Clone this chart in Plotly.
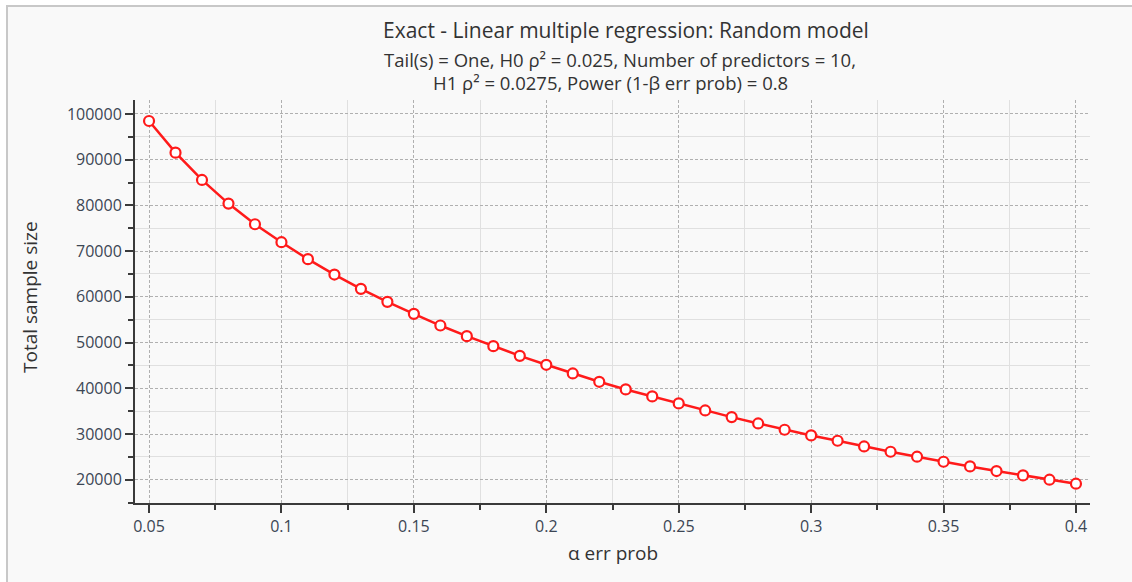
import plotly.graph_objects as go

alpha = [0.05, 0.06, 0.07, 0.08, 0.09, 0.10, 0.11, 0.12, 0.13, 0.14, 0.15, 0.16,
         0.17, 0.18, 0.19, 0.20, 0.21, 0.22, 0.23, 0.24, 0.25, 0.26, 0.27, 0.28,
         0.29, 0.30, 0.31, 0.32, 0.33, 0.34, 0.35, 0.36, 0.37, 0.38, 0.39, 0.40]
sample_size = [98470, 91540, 85570, 80400, 75880, 71950, 68240, 64880, 61750, 58910,
               56280, 53730, 51400, 49220, 47100, 45140, 43240, 41420, 39750, 38220,
               36690, 35150, 33700, 32310, 30930, 29690, 28520, 27280, 26120, 25030,
               23930, 22910, 21900, 20940, 20000, 19130]

x_ticks = [0.05, 0.1, 0.15, 0.2, 0.25, 0.3, 0.35, 0.4]
x_ticktext = ["0.05", "0.1", "0.15", "0.2", "0.25", "0.3", "0.35", "0.4"]
y_ticks = [20000, 30000, 40000, 50000, 60000, 70000, 80000, 90000, 100000]
y_ticktext = ["20000", "30000", "40000", "50000", "60000", "70000", "80000", "90000", "100000"]

title = "Exact - Linear multiple regression: Random model"
subtitle1 = "Tail(s) = One, H0 ρ² = 0.025, Number of predictors = 10,"
subtitle2 = "H1 ρ² = 0.0275, Power (1-β err prob) = 0.8"
x_title = "α err prob"
y_title = "Total sample size"

FONT = "Open Sans"
W, H = 1132, 582
L, R, T, B = 135, 42, 100, 79
pw, ph = W - L - R, H - T - B


def px(x):
    return (x - L) / pw


def py(y):
    return (H - B - y) / ph


fig = go.Figure()
fig.add_trace(go.Scatter(
    x=alpha, y=sample_size, mode="lines+markers",
    line=dict(color="#ff1a1a", width=2.5),
    marker=dict(symbol="circle", size=10, color="white",
                line=dict(color="#ff1a1a", width=2.2)),
    showlegend=False,
))

axis_common = dict(
    showline=True, linecolor="#3a3a3a", linewidth=2,
    ticks="outside", ticklen=8, tickwidth=2, tickcolor="#3a3a3a",
    showgrid=True, gridcolor="#b0b0b0", griddash="3px,2px", gridwidth=1,
    zeroline=False, mirror=False,
    tickfont=dict(family=FONT, size=16, color="#3c4654"),
)
minor_common = dict(ticks="outside", ticklen=5, tickwidth=2, tickcolor="#3a3a3a",
                    showgrid=True, gridcolor="#e0e0e0", gridwidth=1, griddash="solid")

fig.update_xaxes(
    range=[0.0447, 0.4053], tickvals=x_ticks, ticktext=x_ticktext,
    minor=dict(tickvals=[0.075, 0.125, 0.175, 0.225, 0.275, 0.325, 0.375], **minor_common),
    **axis_common,
)
fig.update_yaxes(
    range=[14907, 103060], tickvals=y_ticks, ticktext=y_ticktext,
    minor=dict(tickvals=[15000, 25000, 35000, 45000, 55000, 65000, 75000, 85000, 95000],
               **minor_common),
    **axis_common,
)

annotations = [
    dict(text=title, x=px(626), y=py(30), font=dict(size=21, color="#333333")),
    dict(text=subtitle1, x=px(620), y=py(60), font=dict(size=18.5, color="#333333")),
    dict(text=subtitle2, x=px(610), y=py(83), font=dict(size=18.5, color="#333333")),
    dict(text=x_title, x=px(613), y=py(553), font=dict(size=19, color="#333333")),
    dict(text=y_title, x=px(30), y=py(297), textangle=-90,
         font=dict(size=19, color="#333333")),
]
for a in annotations:
    a.update(xref="paper", yref="paper", showarrow=False,
             xanchor="center", yanchor="middle")
    a["font"]["family"] = FONT

fig.update_layout(
    width=W, height=H,
    margin=dict(l=L, r=R, t=T, b=B, pad=0),
    paper_bgcolor="white",
    plot_bgcolor="#f0f0f0",
    annotations=annotations,
    shapes=[dict(type="rect", xref="paper", yref="paper", layer="below",
                 x0=px(7), x1=px(1140), y0=py(600), y1=py(6),
                 fillcolor="#f9f9f9", line=dict(color="#c8c8c8", width=2))],
)

fig.write_html("out.html", config={"displayModeBar": False},
               post_script="document.body.style.margin='0';document.body.style.overflow='hidden';")
